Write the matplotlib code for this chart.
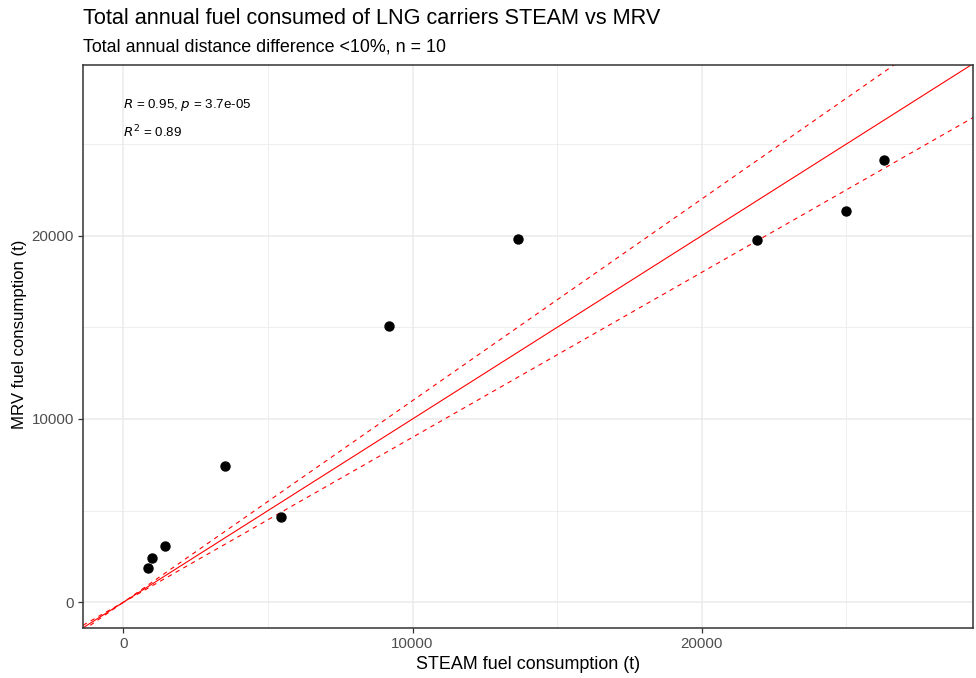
import numpy as np
from matplotlib import pyplot as plt
import matplotlib.ticker as ticker

plt.rcParams['font.family'] = ['Liberation Sans', 'DejaVu Sans']

# ============================== Data =============================== #
steam = [864, 1003, 1432, 3517, 5443, 9177, 13638, 21902, 24990, 26314]
mrv = [1855, 2400, 3071, 7436, 4670, 15090, 19804, 19765, 21347, 24130]
ref_slopes = [1.0, 1.1, 0.9]
ref_styles = ['-', '--', '--']

title = "Total annual fuel consumed of LNG carriers STEAM vs MRV"
subtitle = "Total annual distance difference <10%, n = 10"
x_title = "STEAM fuel consumption (t)"
y_title = "MRV fuel consumption (t)"
stat_lines = [r"$R$ = 0.95, $p$ = 3.7e-05", r"$R^2$ = 0.89"]
# =================================================================== #

fig = plt.figure(figsize=(9.76, 6.78), dpi=100)
ax = fig.add_axes([0.085, 0.0742, 0.9123, 0.8292])

xlim = (-1394, 29391)
ylim = (-1386, 29285)

grid_col = '#EBEBEB'
for v in [0, 10000, 20000]:
    ax.axvline(v, color=grid_col, lw=1.1, zorder=0)
    ax.axhline(v, color=grid_col, lw=1.1, zorder=0)
for v in [5000, 15000, 25000]:
    ax.axvline(v, color=grid_col, lw=0.6, zorder=0)
    ax.axhline(v, color=grid_col, lw=0.6, zorder=0)

xx = np.array(xlim)
for k, ls in zip(ref_slopes, ref_styles):
    ax.plot(xx, k * xx, color='red', lw=0.8, ls=ls,
            dashes=(4, 4) if ls == '--' else (None, None), zorder=2)

ax.scatter(steam, mrv, s=42, color='black', zorder=3)

ax.text(0, 27130, stat_lines[0], fontsize=9.6, va='center', ha='left')
ax.text(0, 25660, stat_lines[1], fontsize=9.6, va='center', ha='left')

ax.set_xlim(xlim)
ax.set_ylim(ylim)
ax.xaxis.set_major_locator(ticker.FixedLocator([0, 10000, 20000]))
ax.yaxis.set_major_locator(ticker.FixedLocator([0, 10000, 20000]))
ax.tick_params(colors='#333333', labelcolor='#4D4D4D', labelsize=10.8,
               length=3.5, width=0.9, pad=3)
for sp in ax.spines.values():
    sp.set_color('#333333')
    sp.set_linewidth(1.1)

ax.set_xlabel(x_title, fontsize=12.9, labelpad=4)
ax.set_ylabel(y_title, fontsize=12.1)
ax.yaxis.set_label_coords(-0.063, 0.521)

fig.text(0.085, 0.972, title, fontsize=15.6, ha='left', va='center')
fig.text(0.085, 0.931, subtitle, fontsize=12.9, ha='left', va='center')

plt.savefig('out.png', dpi=100)
